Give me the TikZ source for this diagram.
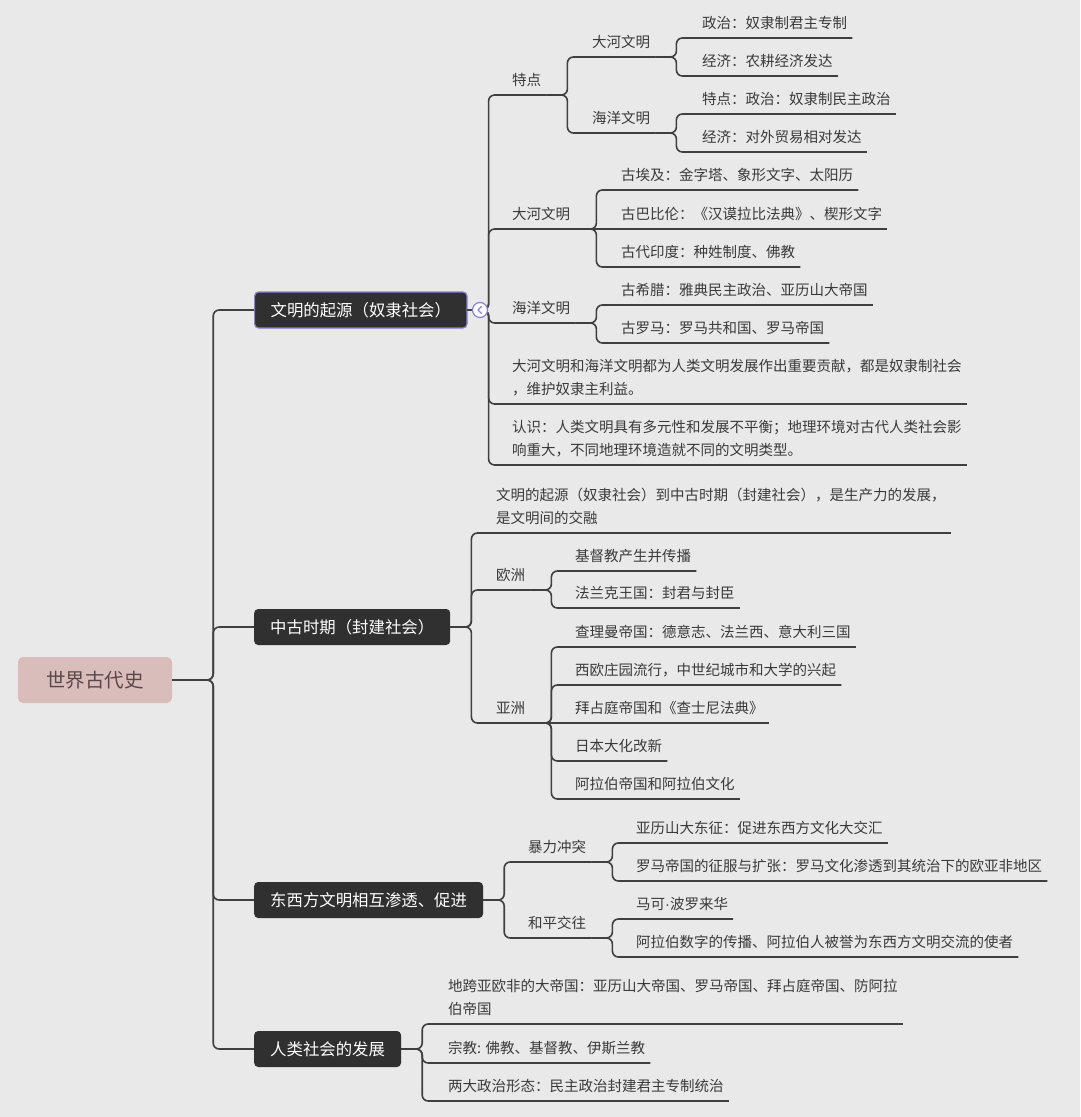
\documentclass[tikz,border=0pt]{standalone}
\usepackage{fontspec}
\setmainfont{Noto Sans CJK SC}
\newfontfamily\latinfont{Liberation Sans}
\usepackage{tikz}
\usetikzlibrary{positioning,calc}
\definecolor{paper}{HTML}{E9E9E9}
\definecolor{ink}{HTML}{3A3A3A}
\definecolor{wire}{HTML}{404040}
\definecolor{dark}{HTML}{303030}
\definecolor{rose}{HTML}{D8BDBA}
\definecolor{rosetext}{HTML}{5A4848}
\definecolor{lilac}{HTML}{8A7FD8}
\tikzset{
  rootnode/.style={rounded corners=5pt,fill=rose,text=rosetext,minimum width=154pt,minimum height=46pt,font=\fontsize{19.5}{22}\selectfont},
  topic/.style={rounded corners=4pt,fill=dark,text=white,anchor=west,minimum height=36pt,inner xsep=16pt,font=\fontsize{16.4}{19}\selectfont},
  leaf/.style={anchor=south west,text=ink,inner xsep=5pt,inner ysep=6.5pt,text depth=3pt,align=left,font=\fontsize{14.5}{23}\selectfont},
  link/.style={draw=wire,line width=1.6pt,rounded corners=6pt},
  foldmark/.style={circle,draw=lilac,fill=white,line width=1.2pt,minimum size=15pt,inner sep=0pt}
}
\begin{document}
\begin{tikzpicture}[x=1pt,y=-1pt]
  \fill[paper] (0,0) rectangle (1080,1117);
  \useasboundingbox (0,0) rectangle (1080,1117);
  \node[rootnode] (world) at (95,680) {世界古代史};
  \node[topic,draw=lilac,line width=1.2pt] (origin) at (254,310) {文明的起源（奴隶社会）};
  \node[topic] (middle) at (254,627) {中古时期（封建社会）};
  \node[topic] (exchange) at (254,900) {东西方文明相互渗透、促进};
  \node[topic] (society) at (254,1049) {人类社会的发展};
  \draw[link] (world.east) -- ++(41,0) |- (origin.west);
  \draw[link] (world.east) -- ++(41,0) |- (middle.west);
  \draw[link] (world.east) -- ++(41,0) |- (exchange.west);
  \draw[link] (world.east) -- ++(41,0) |- (society.west);
  \node[leaf] (trait) at (507,95) {特点};
  \node[leaf] (traitriver) at (587,57) {大河文明};
  \node[leaf] (riverpol) at (697,38) {政治：奴隶制君主专制};
  \node[leaf] (riverecon) at (697,76) {经济：农耕经济发达};
  \node[leaf] (traitsea) at (587,133) {海洋文明};
  \node[leaf] (seapol) at (697,114) {特点：政治：奴隶制民主政治};
  \node[leaf] (seaecon) at (697,152) {经济：对外贸易相对发达};
  \node[leaf] (river) at (507,229) {大河文明};
  \node[leaf] (egypt) at (616,190) {古埃及：金字塔、象形文字、太阳历};
  \node[leaf] (babylon) at (616,229) {古巴比伦：《汉谟拉比法典》、楔形文字};
  \node[leaf] (india) at (616,267) {古代印度：种姓制度、佛教};
  \node[leaf] (sea) at (507,323) {海洋文明};
  \node[leaf] (greece) at (616,305) {古希腊：雅典民主政治、亚历山大帝国};
  \node[leaf] (rome) at (616,343) {古罗马：罗马共和国、罗马帝国};
  \node[leaf] (contrib) at (507,404) {大河文明和海洋文明都为人类文明发展作出重要贡献，都是奴隶制社会\\，维护奴隶主利益。};
  \node[leaf] (insight) at (507,465) {认识：人类文明具有多元性和发展不平衡；地理环境对古代人类社会影\\响重大，不同地理环境造就不同的文明类型。};
  \draw[link] (origin.east) -- ++(21,0) |- (trait.south east);
  \draw[link] (origin.east) -- ++(21,0) |- (river.south east);
  \draw[link] (origin.east) -- ++(21,0) |- (sea.south east);
  \draw[link] (origin.east) -- ++(21,0) |- (contrib.south east);
  \draw[link] (origin.east) -- ++(21,0) |- (insight.south east);
  \draw[link] (trait.south east) -- ++(21,0) |- (traitriver.south east);
  \draw[link] (trait.south east) -- ++(21,0) |- (traitsea.south east);
  \draw[link] (traitriver.south east) -- ++(21,0) |- (riverpol.south east);
  \draw[link] (traitriver.south east) -- ++(21,0) |- (riverecon.south east);
  \draw[link] (traitsea.south east) -- ++(21,0) |- (seapol.south east);
  \draw[link] (traitsea.south east) -- ++(21,0) |- (seaecon.south east);
  \draw[link] (river.south east) -- ++(21,0) |- (egypt.south east);
  \draw[link] (river.south east) -- (babylon.south east);
  \draw[link] (river.south east) -- ++(21,0) |- (india.south east);
  \draw[link] (sea.south east) -- ++(21,0) |- (greece.south east);
  \draw[link] (sea.south east) -- ++(21,0) |- (rome.south east);
  \node[foldmark] (fold) at (480,310) {};
  \draw[lilac,line width=1.2pt,line cap=round,line join=round] ($(fold)+(1.5,-3.5)$) -- ($(fold)+(-2,0)$) -- ($(fold)+(1.5,3.5)$);
  \node[leaf] (transition) at (491,533) {文明的起源（奴隶社会）到中古时期（封建社会），是生产力的发展，\\是文明间的交融};
  \node[leaf] (europe) at (491,590) {欧洲};
  \node[leaf] (christ) at (570,571) {基督教产生并传播};
  \node[leaf] (frank) at (570,608) {法兰克王国：封君与封臣};
  \node[leaf] (asia) at (491,723) {亚洲};
  \node[leaf] (charle) at (570,647) {查理曼帝国：德意志、法兰西、意大利三国};
  \node[leaf] (manor) at (570,685) {西欧庄园流行，中世纪城市和大学的兴起};
  \node[leaf] (byzant) at (570,723) {拜占庭帝国和《查士尼法典》};
  \node[leaf] (japan) at (570,761) {日本大化改新};
  \node[leaf] (arab) at (570,799) {阿拉伯帝国和阿拉伯文化};
  \draw[link] (middle.east) -- ++(21,0) |- (transition.south east);
  \draw[link] (middle.east) -- ++(21,0) |- (europe.south east);
  \draw[link] (middle.east) -- ++(21,0) |- (asia.south east);
  \draw[link] (europe.south east) -- ++(21,0) |- (christ.south east);
  \draw[link] (europe.south east) -- ++(21,0) |- (frank.south east);
  \draw[link] (asia.south east) -- ++(21,0) |- (charle.south east);
  \draw[link] (asia.south east) -- ++(21,0) |- (manor.south east);
  \draw[link] (asia.south east) -- (byzant.south east);
  \draw[link] (asia.south east) -- ++(21,0) |- (japan.south east);
  \draw[link] (asia.south east) -- ++(21,0) |- (arab.south east);
  \node[leaf] (violent) at (523,862) {暴力冲突};
  \node[leaf] (alexander) at (631,843) {亚历山大东征：促进东西方文化大交汇};
  \node[leaf] (romeexp) at (631,881) {罗马帝国的征服与扩张：罗马文化渗透到其统治下的欧亚非地区};
  \node[leaf] (peace) at (523,938) {和平交往};
  \node[leaf] (marco) at (631,919) {马可{\latinfont ·}波罗来华};
  \node[leaf] (numerals) at (631,957) {阿拉伯数字的传播、阿拉伯人被誉为东西方文明交流的使者};
  \draw[link] (exchange.east) -- ++(21,0) |- (violent.south east);
  \draw[link] (exchange.east) -- ++(21,0) |- (peace.south east);
  \draw[link] (violent.south east) -- ++(21,0) |- (alexander.south east);
  \draw[link] (violent.south east) -- ++(21,0) |- (romeexp.south east);
  \draw[link] (peace.south east) -- ++(21,0) |- (marco.south east);
  \draw[link] (peace.south east) -- ++(21,0) |- (numerals.south east);
  \node[leaf] (empire) at (443,1024) {地跨亚欧非的大帝国：亚历山大帝国、罗马帝国、拜占庭帝国、防阿拉\\伯帝国};
  \node[leaf] (religion) at (443,1063) {宗教: 佛教、基督教、伊斯兰教};
  \node[leaf] (politics) at (443,1101) {两大政治形态：民主政治封建君主专制统治};
  \draw[link] (society.east) -- ++(21,0) |- (empire.south east);
  \draw[link] (society.east) -- ++(21,0) |- (religion.south east);
  \draw[link] (society.east) -- ++(21,0) |- (politics.south east);
\end{tikzpicture}
\end{document}
